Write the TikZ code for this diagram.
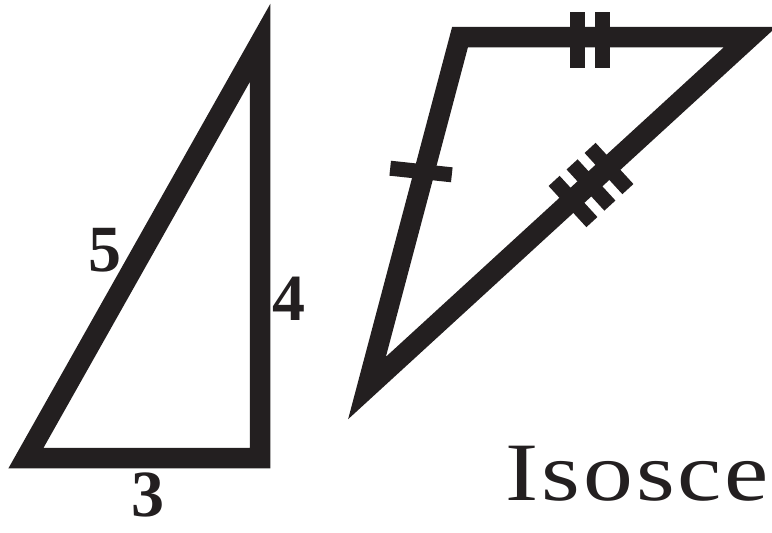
\documentclass[tikz,border=0pt]{standalone}
\usepackage{fontspec}
\setmainfont{Liberation Serif}
\newfontfamily\wideserif[FakeStretch=1.2, LetterSpace=3.5]{Liberation Serif}
\definecolor{ink}{RGB}{35,31,32}

\begin{document}
\begin{tikzpicture}[x=1pt, y=-1pt, line join=miter,
    side/.style={ink, line width=20.5pt},
    tick/.style={ink, line width=15pt},
    sidelabel/.style={ink, inner sep=0pt, font=\fontsize{66}{66}\selectfont\bfseries}]
    \useasboundingbox (0,0) rectangle (772,533);
    \clip (0,0) rectangle (772,533);

    % Right triangle 3-4-5
    \coordinate (A) at (26,458);
    \coordinate (B) at (260,458);
    \coordinate (C) at (260,43);
    \draw[side] (A) -- (B) -- (C) -- cycle;

    % Side labels
    \node[sidelabel] (five) at (104.5,250.5) {5};
    \node[sidelabel] (four) at (288.5,299) {4};
    \node[sidelabel] (three) at (147.5,494.5) {3};

    % Isosceles triangle
    \coordinate (P) at (460,37.2);
    \coordinate (Q) at (750,37.2);
    \coordinate (R) at (367,388);
    \draw[side] (P) -- (Q) -- (R) -- cycle;

    % Tick marks
    \draw[tick] (390.2,168.2) -- (451.8,174.8);
    \foreach \x in {577.8,602.2} \draw[tick] (\x,12.3) -- (\x,68.3);
    \foreach \cx/\cy in {573/201.5, 591/185, 609/168.5}
        \draw[tick] ({\cx-18.9},{\cy-20.6}) -- ({\cx+18.9},{\cy+20.6});

    % Caption
    \node[ink, anchor=base west, inner sep=0pt,
        font=\wideserif\fontsize{83}{83}\selectfont] (caption) at (505.5,500.5) {Isosceles};
\end{tikzpicture}
\end{document}
